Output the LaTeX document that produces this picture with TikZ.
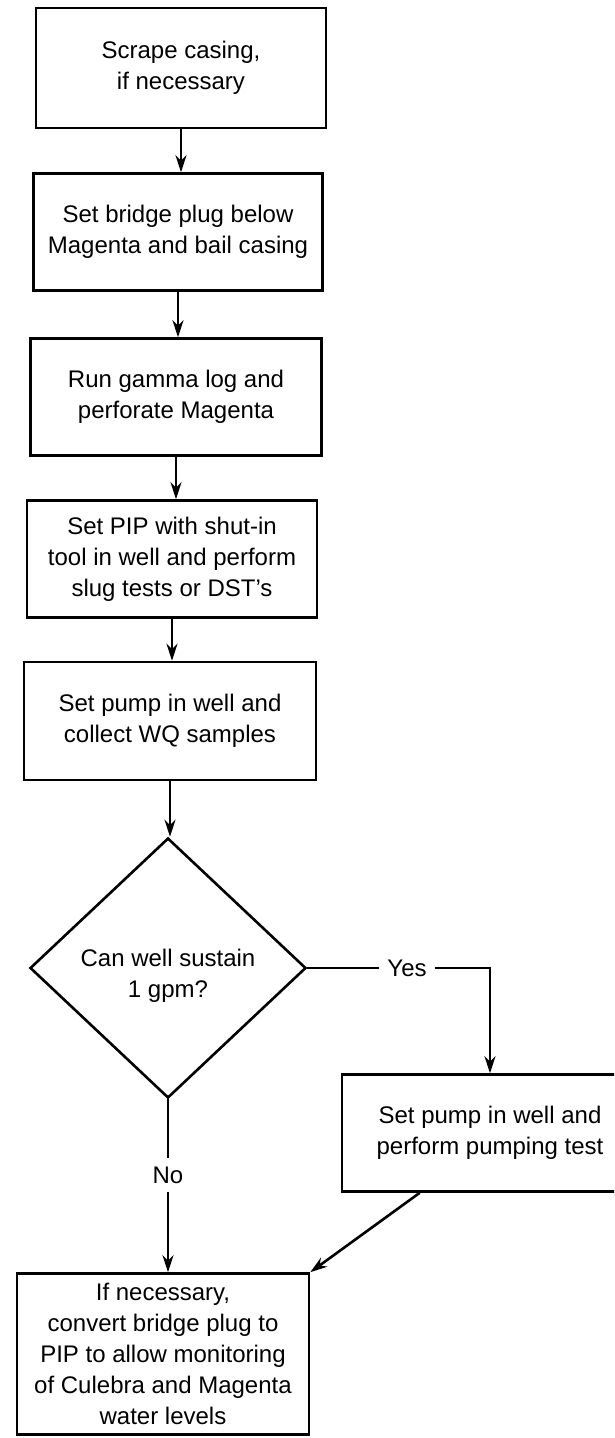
\documentclass[tikz,border=0pt]{standalone}
\usepackage{fontspec}
\setmainfont{Liberation Sans}
\usetikzlibrary{shapes.geometric,arrows.meta}
\begin{document}
\begin{tikzpicture}[x=1pt,y=-1pt,
  box/.style={draw, line width=2.6pt, align=center, inner sep=0pt, font=\fontsize{24}{31}\selectfont},
  lbl/.style={inner sep=8pt, font=\fontsize{24}{31}\selectfont},
  ln/.style={line width=2.6pt},
  arr/.style={line width=2.6pt, -{Stealth[length=17pt,width=11pt]}}]
\useasboundingbox (0,0) rectangle (614,1438);
\clip (0,0) rectangle (614,1438);
\node[box, minimum width=290pt, minimum height=120pt] (b1) at (181,68) {Scrape casing,\\if necessary};
\node[box, minimum width=289pt, minimum height=117pt] (b2) at (178,232) {Set bridge plug below\\Magenta and bail casing};
\node[box, minimum width=291pt, minimum height=117pt] (b3) at (176,397) {Run gamma log and\\perforate Magenta};
\node[box, minimum width=290pt, minimum height=117pt] (b4) at (172,559) {Set PIP with shut-in\\tool in well and perform\\slug tests or DST's};
\node[box, minimum width=292pt, minimum height=118pt] (b5) at (170,721) {Set pump in well and\\collect WQ samples};
\node[draw, diamond, line width=2.6pt, minimum width=276pt, minimum height=260pt, inner sep=0pt] (dia) at (168,968) {};
\node[align=center, inner sep=0pt, font=\fontsize{24}{31}\selectfont] (dtext) at (168,976) {Can well sustain\\1 gpm?};
\node[box, minimum width=296pt, minimum height=117pt] (pump) at (490,1133) {Set pump in well and\\perform pumping test};
\node[box, minimum width=292pt, minimum height=161pt] (bot) at (163,1354) {If necessary,\\convert bridge plug to\\PIP to allow monitoring\\of Culebra and Magenta\\water levels};
\node[lbl] (yes) at (407,968) {Yes};
\node[lbl] (no) at (168,1175) {No};
\draw[arr] (b1.south) -- (b1.south |- b2.north);
\draw[arr] (b2.south) -- (b2.south |- b3.north);
\draw[arr] (b3.south) -- (b3.south |- b4.north);
\draw[arr] (b4.south) -- (b4.south |- b5.north);
\draw[arr] (b5.south) -- (b5.south |- dia.north);
\draw[ln] (dia.east) -- (yes.west);
\draw[arr] (yes.east) -| (pump.north);
\draw[ln] (dia.south) -- (no.north);
\draw[arr] (no.south) -- (no.south |- bot.north);
\draw[arr] ([xshift=79pt]pump.south west) -- (bot.north east);
\end{tikzpicture}
\end{document}
